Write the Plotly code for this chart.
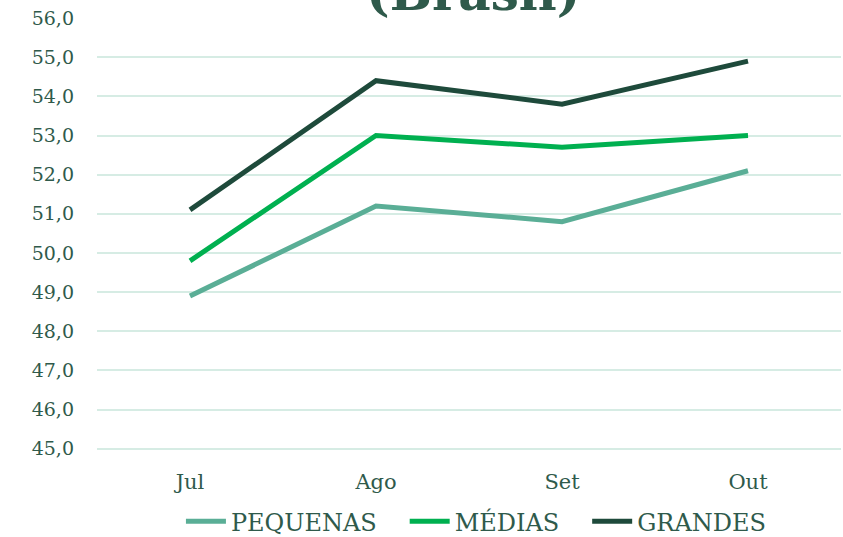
import plotly.graph_objects as go

months = ["Jul", "Ago", "Set", "Out"]
pequenas = [48.9, 51.2, 50.8, 52.1]
medias = [49.8, 53.0, 52.7, 53.0]
grandes = [51.1, 54.4, 53.8, 54.9]
y_ticks = [45, 46, 47, 48, 49, 50, 51, 52, 53, 54, 55, 56]
y_tick_labels = [f"{v:.1f}".replace(".", ",") for v in y_ticks]

text_color = "#2f5a4b"
font_family = "DejaVu Serif"
gap = "\u00a0\u00a0\u00a0"

fig = go.Figure()

series = [
    ("PEQUENAS" + gap, pequenas, "#5aae96"),
    ("MÉDIAS" + gap, medias, "#00b050"),
    ("GRANDES", grandes, "#1e4a3b"),
]
for name, vals, color in series:
    fig.add_trace(go.Scatter(
        x=months, y=vals, mode="lines", name=name,
        line=dict(color=color, width=5),
    ))

# title is cut by the top edge in the reference
fig.add_annotation(
    text="<b>(Brasil)</b>", xref="paper", yref="paper",
    x=0.505, y=1.058, xanchor="center", yanchor="middle", showarrow=False,
    font=dict(size=50, color=text_color, family=font_family),
)

fig.update_layout(
    width=843, height=537,
    paper_bgcolor="white", plot_bgcolor="white",
    font=dict(family=font_family, color=text_color, size=19),
    margin=dict(l=97, r=2, t=18, b=87, autoexpand=False),
    showlegend=True,
    legend=dict(
        orientation="h", x=0.51, xanchor="center", y=-0.114, yanchor="top",
        bgcolor="rgba(0,0,0,0)",
        font=dict(size=24, color=text_color), itemwidth=40,
    ),
    xaxis=dict(
        range=[-0.5, 3.5], showgrid=False, showline=False, ticks="",
        ticklabelstandoff=17,
        tickfont=dict(size=21, color=text_color),
    ),
    yaxis=dict(
        range=[44.97, 56], tickvals=y_ticks, ticktext=y_tick_labels,
        showgrid=True, gridcolor="#d6ece4", gridwidth=1.5,
        zeroline=False, showline=False, ticks="", ticklabelstandoff=22,
        tickfont=dict(size=19, color=text_color),
    ),
)

# drop the default page margin so the figure sits at the window's corner
fig.write_html("out.html", config={"displayModeBar": False},
               post_script="document.body.style.margin='0';")
